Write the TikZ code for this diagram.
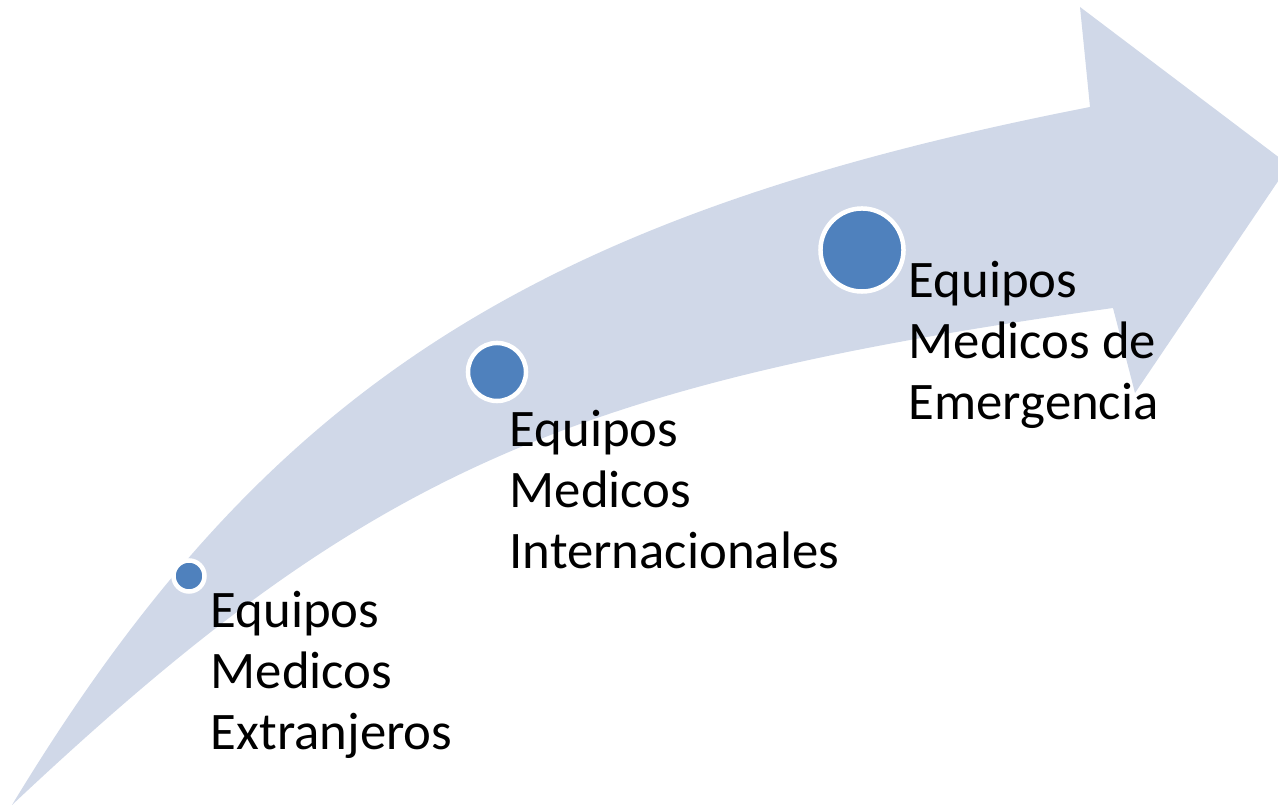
\documentclass[tikz,border=0pt]{standalone}
\usepackage{fontspec}
\setmainfont{Carlito}
\definecolor{bandblue}{HTML}{D0D8E8}
\definecolor{dotblue}{HTML}{4F81BD}
\tikzset{
  dot/.style={circle, fill=dotblue, draw=white, line width=0.45mm, inner sep=0pt},
  lbl/.style={anchor=north west, inner sep=0pt, align=left, font=\fontsize{15}{17.3}\selectfont}
}
\begin{document}
\begin{tikzpicture}[x=0.01cm, y=-0.01cm]
\useasboundingbox (0,0) rectangle (1278,807);
% curved arrow
\fill[bandblue] (12,805) .. controls (263,390) and (532,216) .. (1090,107)
   -- (1080,7) -- (1289,165) -- (1135,393) -- (1113,308)
   .. controls (562,385) and (364,474) .. (12,805) -- cycle;
% dots
\node[dot, minimum size=0.31cm] (d1) at (189,576) {};
\node[dot, minimum size=0.58cm] (d2) at (497,372) {};
\node[dot, minimum size=0.83cm] (d3) at (862,250) {};
% labels
\node[lbl] (t1) at (210,591) {Equipos\\Medicos\\Extranjeros};
\node[lbl] (t2) at (509,410) {Equipos\\Medicos\\Internacionales};
\node[lbl] (t3) at (908,261) {Equipos\\Medicos de\\Emergencia};
\end{tikzpicture}
\end{document}
